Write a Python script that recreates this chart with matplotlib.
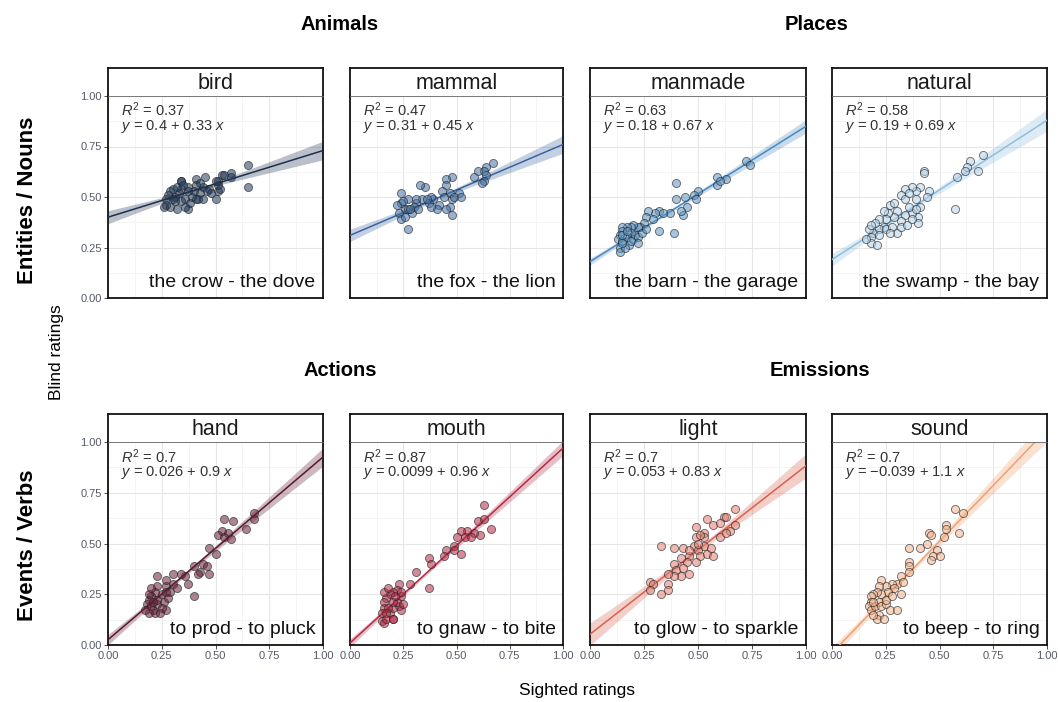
import matplotlib
matplotlib.use("Agg")
import matplotlib.pyplot as plt
from matplotlib.colors import to_rgba
import numpy as np

plt.rcParams['font.family'] = ['Liberation Sans', 'DejaVu Sans']
plt.rcParams['mathtext.fontset'] = 'custom'
plt.rcParams['mathtext.rm'] = 'Liberation Sans'
plt.rcParams['mathtext.it'] = 'Liberation Sans:italic'

# ---- data (sighted rating, blind rating) ----
bird_x = [0.65, 0.65, 0.57, 0.53, 0.57, 0.51, 0.51, 0.51, 0.50, 0.47, 0.45, 0.44, 0.43, 0.41, 0.41,
          0.40, 0.39, 0.42, 0.37, 0.37, 0.36, 0.34, 0.34, 0.37, 0.34, 0.33, 0.31, 0.30, 0.30, 0.29,
          0.32, 0.28, 0.27, 0.27, 0.26, 0.29, 0.34, 0.38, 0.46, 0.48, 0.52, 0.32, 0.35, 0.41, 0.43,
          0.31, 0.36, 0.44, 0.50, 0.54]
bird_y = [0.66, 0.55, 0.62, 0.61, 0.60, 0.58, 0.56, 0.53, 0.49, 0.54, 0.60, 0.55, 0.52, 0.59, 0.56,
          0.53, 0.50, 0.49, 0.55, 0.53, 0.49, 0.58, 0.54, 0.44, 0.58, 0.52, 0.50, 0.54, 0.49, 0.53,
          0.44, 0.51, 0.49, 0.46, 0.45, 0.45, 0.48, 0.47, 0.53, 0.52, 0.54, 0.55, 0.56, 0.49, 0.57,
          0.48, 0.45, 0.49, 0.58, 0.61]

mammal_x = [0.67, 0.64, 0.63, 0.60, 0.64, 0.63, 0.62, 0.58, 0.48, 0.45, 0.45, 0.43, 0.47, 0.51, 0.48,
            0.47, 0.48, 0.45, 0.42, 0.41, 0.39, 0.38, 0.37, 0.35, 0.33, 0.34, 0.31, 0.30, 0.29, 0.27,
            0.26, 0.24, 0.24, 0.23, 0.24, 0.22, 0.27, 0.27, 0.28, 0.25, 0.31, 0.36, 0.38, 0.44, 0.49,
            0.52, 0.26, 0.32]
mammal_y = [0.67, 0.65, 0.63, 0.63, 0.61, 0.58, 0.57, 0.60, 0.60, 0.59, 0.56, 0.53, 0.52, 0.52, 0.49,
            0.45, 0.41, 0.44, 0.46, 0.44, 0.49, 0.50, 0.47, 0.55, 0.56, 0.49, 0.47, 0.45, 0.42, 0.49,
            0.44, 0.52, 0.47, 0.42, 0.39, 0.46, 0.34, 0.44, 0.44, 0.48, 0.49, 0.49, 0.45, 0.50, 0.50,
            0.50, 0.40, 0.44]

manmade_x = [0.72, 0.74, 0.59, 0.63, 0.59, 0.60, 0.40, 0.50, 0.48, 0.49, 0.44, 0.40, 0.45, 0.43, 0.42,
             0.37, 0.32, 0.30, 0.27, 0.26, 0.29, 0.32, 0.39, 0.25, 0.23, 0.22, 0.20, 0.19, 0.17, 0.15,
             0.15, 0.14, 0.13, 0.14, 0.14, 0.15, 0.17, 0.18, 0.19, 0.20, 0.21, 0.22, 0.16, 0.19, 0.15,
             0.24, 0.26, 0.17, 0.15, 0.22, 0.34]
manmade_y = [0.68, 0.66, 0.60, 0.59, 0.56, 0.58, 0.57, 0.53, 0.51, 0.49, 0.50, 0.49, 0.45, 0.41, 0.43,
             0.42, 0.43, 0.42, 0.43, 0.40, 0.39, 0.33, 0.32, 0.37, 0.35, 0.35, 0.36, 0.35, 0.35, 0.35,
             0.33, 0.31, 0.29, 0.25, 0.23, 0.28, 0.30, 0.26, 0.32, 0.29, 0.31, 0.30, 0.25, 0.28, 0.31,
             0.32, 0.34, 0.33, 0.27, 0.27, 0.42]

natural_x = [0.70, 0.68, 0.64, 0.63, 0.62, 0.58, 0.57, 0.43, 0.43, 0.45, 0.44, 0.41, 0.39, 0.37, 0.34,
             0.32, 0.39, 0.41, 0.40, 0.40, 0.37, 0.36, 0.34, 0.32, 0.30, 0.29, 0.27, 0.26, 0.25, 0.24,
             0.22, 0.22, 0.20, 0.19, 0.18, 0.17, 0.18, 0.21, 0.16, 0.18, 0.22, 0.25, 0.28, 0.30, 0.32,
             0.35, 0.37, 0.34, 0.29, 0.24, 0.36, 0.39, 0.27]
natural_y = [0.71, 0.63, 0.68, 0.65, 0.63, 0.60, 0.44, 0.63, 0.62, 0.53, 0.50, 0.55, 0.53, 0.55, 0.54,
             0.51, 0.49, 0.45, 0.40, 0.37, 0.42, 0.45, 0.41, 0.38, 0.43, 0.40, 0.46, 0.42, 0.39, 0.35,
             0.39, 0.34, 0.37, 0.32, 0.30, 0.34, 0.27, 0.26, 0.29, 0.36, 0.31, 0.34, 0.35, 0.32, 0.35,
             0.36, 0.39, 0.49, 0.47, 0.43, 0.52, 0.44, 0.32]

hand_x = [0.68, 0.68, 0.58, 0.54, 0.64, 0.56, 0.53, 0.51, 0.54, 0.57, 0.47, 0.50, 0.44, 0.46, 0.47,
          0.43, 0.42, 0.40, 0.40, 0.37, 0.36, 0.34, 0.30, 0.30, 0.27, 0.29, 0.27, 0.23, 0.23, 0.25,
          0.22, 0.20, 0.19, 0.18, 0.20, 0.19, 0.21, 0.23, 0.23, 0.26, 0.27, 0.25, 0.21, 0.19, 0.28,
          0.27, 0.20, 0.22, 0.24, 0.17, 0.32]
hand_y = [0.65, 0.62, 0.61, 0.62, 0.57, 0.55, 0.56, 0.54, 0.53, 0.52, 0.48, 0.45, 0.40, 0.39, 0.35,
          0.36, 0.35, 0.39, 0.24, 0.30, 0.34, 0.35, 0.35, 0.30, 0.29, 0.26, 0.32, 0.34, 0.29, 0.25,
          0.26, 0.24, 0.22, 0.20, 0.19, 0.16, 0.17, 0.20, 0.22, 0.21, 0.17, 0.18, 0.21, 0.25, 0.23,
          0.26, 0.28, 0.16, 0.16, 0.17, 0.28]

mouth_x = [0.63, 0.60, 0.63, 0.66, 0.61, 0.58, 0.55, 0.52, 0.54, 0.57, 0.50, 0.49, 0.49, 0.52, 0.45,
           0.44, 0.37, 0.38, 0.31, 0.37, 0.28, 0.23, 0.22, 0.20, 0.19, 0.17, 0.16, 0.16, 0.15, 0.15,
           0.16, 0.17, 0.19, 0.20, 0.23, 0.24, 0.22, 0.20, 0.18, 0.24, 0.21, 0.17, 0.20, 0.16, 0.24,
           0.18, 0.20, 0.25]
mouth_y = [0.69, 0.61, 0.62, 0.57, 0.54, 0.55, 0.56, 0.56, 0.53, 0.53, 0.53, 0.49, 0.47, 0.45, 0.47,
           0.44, 0.43, 0.40, 0.36, 0.28, 0.30, 0.30, 0.27, 0.26, 0.25, 0.23, 0.21, 0.18, 0.16, 0.12,
           0.11, 0.13, 0.16, 0.18, 0.19, 0.17, 0.21, 0.21, 0.18, 0.24, 0.24, 0.16, 0.13, 0.26, 0.26,
           0.28, 0.13, 0.20]

light_x = [0.67, 0.62, 0.63, 0.54, 0.67, 0.57, 0.49, 0.65, 0.60, 0.63, 0.53, 0.53, 0.49, 0.48, 0.53,
           0.50, 0.43, 0.39, 0.33, 0.46, 0.51, 0.54, 0.57, 0.49, 0.45, 0.42, 0.39, 0.40, 0.43, 0.46,
           0.42, 0.39, 0.36, 0.36, 0.33, 0.36, 0.28, 0.29, 0.28, 0.50, 0.56, 0.46, 0.51, 0.60]
light_y = [0.67, 0.63, 0.63, 0.62, 0.59, 0.59, 0.58, 0.56, 0.53, 0.55, 0.55, 0.53, 0.53, 0.49, 0.49,
           0.47, 0.48, 0.48, 0.49, 0.44, 0.44, 0.45, 0.44, 0.41, 0.41, 0.43, 0.40, 0.37, 0.38, 0.35,
           0.34, 0.34, 0.35, 0.30, 0.25, 0.27, 0.31, 0.30, 0.27, 0.50, 0.48, 0.47, 0.54, 0.60]

sound_x = [0.57, 0.61, 0.53, 0.53, 0.52, 0.59, 0.45, 0.46, 0.44, 0.41, 0.49, 0.47, 0.50, 0.46, 0.36,
           0.36, 0.36, 0.36, 0.32, 0.30, 0.28, 0.29, 0.25, 0.23, 0.22, 0.26, 0.23, 0.21, 0.19, 0.18,
           0.18, 0.17, 0.18, 0.20, 0.22, 0.23, 0.25, 0.27, 0.22, 0.21, 0.19, 0.25, 0.30, 0.32, 0.19,
           0.24, 0.28, 0.33]
sound_y = [0.67, 0.65, 0.59, 0.57, 0.53, 0.55, 0.55, 0.54, 0.50, 0.48, 0.47, 0.44, 0.44, 0.42, 0.48,
           0.41, 0.39, 0.36, 0.34, 0.30, 0.30, 0.28, 0.29, 0.32, 0.29, 0.26, 0.25, 0.26, 0.25, 0.24,
           0.21, 0.19, 0.17, 0.19, 0.21, 0.19, 0.20, 0.17, 0.15, 0.13, 0.15, 0.22, 0.17, 0.25, 0.21,
           0.13, 0.24, 0.31]

panel_names = ["bird", "mammal", "manmade", "natural", "hand", "mouth", "light", "sound"]
pair_labels = ["the crow - the dove", "the fox - the lion", "the barn - the garage", "the swamp - the bay",
               "to prod - to pluck", "to gnaw - to bite", "to glow - to sparkle", "to beep - to ring"]
r_squared = [0.37, 0.47, 0.63, 0.58, 0.7, 0.87, 0.7, 0.7]
intercepts = [0.4, 0.31, 0.18, 0.19, 0.026, 0.0099, 0.053, -0.039]
slopes = [0.33, 0.45, 0.67, 0.69, 0.9, 0.96, 0.83, 1.1]
xs = [bird_x, mammal_x, manmade_x, natural_x, hand_x, mouth_x, light_x, sound_x]
ys = [bird_y, mammal_y, manmade_y, natural_y, hand_y, mouth_y, light_y, sound_y]

group_titles = ["Animals", "Places", "Actions", "Emissions"]
row_titles = ["Entities / Nouns", "Events / Verbs"]

# colours per panel: points, line/band
fill_colors = ['#223a5c', '#4572a6', '#5d95c2', '#b5d3e8', '#6a2038', '#b52a45', '#e47e70', '#f3b48e']
line_colors = ['#1d2f4d', '#3a64a0', '#4a88c0', '#8fbedf', '#5a1530', '#b52a45', '#d9604f', '#f0a070']

W, H = 1058, 702
fig = plt.figure(figsize=(W / 100, H / 100), dpi=100)

col_left = [108, 350, 590, 832]
col_width = [215, 213, 216, 215]
row_top = [96, 442]        # top of plot area (px)
row_height = [202, 203]
strip_h = 28
band_z = 1.3               # band half-width in standard errors


def fmt(v):
    return f"{v:g}".replace("-", "\u2212")


def draw_panel(i):
    r, c = divmod(i, 4)
    x = np.array(xs[i])
    y = np.array(ys[i])
    a, b = intercepts[i], slopes[i]

    left = col_left[c] / W
    bottom = 1 - (row_top[r] + row_height[r]) / H
    ax = fig.add_axes([left, bottom, col_width[c] / W, row_height[r] / H])
    sx = fig.add_axes([left, 1 - row_top[r] / H, col_width[c] / W, strip_h / H])

    # regression band from residuals around the reported fit
    n = len(x)
    resid = y - (a + b * x)
    sigma = np.sqrt(np.sum(resid ** 2) / (n - 2))
    xm = x.mean()
    sxx = np.sum((x - xm) ** 2)
    grid = np.linspace(0, 1, 200)
    fit = a + b * grid
    se = sigma * np.sqrt(1 / n + (grid - xm) ** 2 / sxx)
    ax.fill_between(grid, fit - band_z * se, fit + band_z * se, color=line_colors[i], alpha=0.3,
                    lw=0, zorder=2)
    ax.plot(grid, fit, color=line_colors[i], lw=1.1, zorder=3)
    ax.scatter(x, y, s=34, facecolor=to_rgba(fill_colors[i], 0.55), edgecolor=(0.15, 0.15, 0.15, 0.7),
               linewidths=0.6, zorder=4)

    ax.set_xlim(0, 1)
    ax.set_ylim(0, 1)
    ticks = [0, 0.25, 0.5, 0.75, 1.0]
    ax.set_xticks(ticks)
    ax.set_yticks(ticks)
    ax.set_xticks(np.arange(0.125, 1, 0.25), minor=True)
    ax.set_yticks(np.arange(0.125, 1, 0.25), minor=True)
    ax.grid(True, which='major', color='#e6e6e6', lw=0.8, zorder=0)
    ax.grid(True, which='minor', color='#f0f0f0', lw=0.5, zorder=0)
    ax.set_axisbelow(True)
    ax.tick_params(which='minor', length=0)
    ax.tick_params(which='major', labelsize=8, labelcolor='#555a66', color='#333333', length=3, width=0.6)
    if c != 0:
        ax.tick_params(axis='y', length=0, labelleft=False)
    if r == 0:
        ax.tick_params(axis='x', length=0, labelbottom=False)
    ax.set_xticklabels(["0.00", "0.25", "0.50", "0.75", "1.00"])
    ax.set_yticklabels(["0.00", "0.25", "0.50", "0.75", "1.00"])
    ax.tick_params(axis='x', pad=1.5)
    ax.tick_params(axis='y', pad=1.5)
    for sp in ax.spines.values():
        sp.set_color('#111111')
        sp.set_linewidth(1.3)
    ax.spines['top'].set_visible(False)

    ax.text(0.06, 0.93, r"$R^2$ = " + fmt(r_squared[i]), fontsize=10.5, color='#333333',
            va='center', ha='left', zorder=5)
    ax.text(0.06, 0.85, r"$y$ = " + fmt(a) + " + " + fmt(b) + r" $x$", fontsize=10.5, color='#333333',
            va='center', ha='left', zorder=5)
    ax.text(0.965, 0.075, pair_labels[i], fontsize=14, color='#111111', ha='right', va='center',
            zorder=5)

    # facet strip
    sx.set_xlim(0, 1)
    sx.set_ylim(0, 1)
    sx.set_xticks([])
    sx.set_yticks([])
    for sp in sx.spines.values():
        sp.set_color('#111111')
        sp.set_linewidth(1.3)
    sx.spines['bottom'].set_color('#666666')
    sx.spines['bottom'].set_linewidth(0.6)
    sx.text(0.5, 0.45, panel_names[i], fontsize=15.5, color='#1a1a1a', ha='center', va='center')


for i in range(len(panel_names)):
    draw_panel(i)

# group headers, row labels, axis titles
header_pos = [(340, 24), (817, 24), (340, 371), (820, 371)]
for t, (px, py) in zip(group_titles, header_pos):
    fig.text(px / W, 1 - py / H, t, fontsize=14.5, fontweight='bold', ha='center', va='center')
for t, py in zip(row_titles, [200, 545]):
    fig.text(28 / W, 1 - py / H, t, fontsize=16, fontweight='bold', rotation=90, ha='center', va='center')
fig.text(57 / W, 1 - 352 / H, "Blind ratings", fontsize=12.5, rotation=90, ha='center', va='center')
fig.text(577 / W, 1 - 690 / H, "Sighted ratings", fontsize=12.5, ha='center', va='center')

fig.savefig("out.png", dpi=100, facecolor='white')
